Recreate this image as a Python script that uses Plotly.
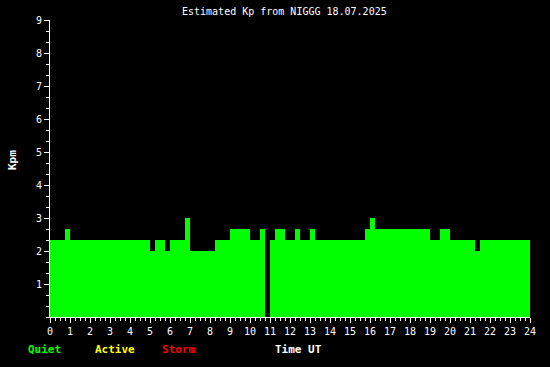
import plotly.graph_objects as go

# 15-minute estimated Kp values, 18.07.2025 (96 intervals)
kp_values = [
    2.33, 2.33, 2.33, 2.67,   # 00
    2.33, 2.33, 2.33, 2.33,   # 01
    2.33, 2.33, 2.33, 2.33,   # 02
    2.33, 2.33, 2.33, 2.33,   # 03
    2.33, 2.33, 2.33, 2.33,   # 04
    2.00, 2.33, 2.33, 2.00,   # 05
    2.33, 2.33, 2.33, 3.00,   # 06
    2.00, 2.00, 2.00, 2.00,   # 07
    2.00, 2.33, 2.33, 2.33,   # 08
    2.67, 2.67, 2.67, 2.67,   # 09
    2.33, 2.33, 2.67, 0.00,   # 10
    2.33, 2.67, 2.67, 2.33,   # 11
    2.33, 2.67, 2.33, 2.33,   # 12
    2.67, 2.33, 2.33, 2.33,   # 13
    2.33, 2.33, 2.33, 2.33,   # 14
    2.33, 2.33, 2.33, 2.67,   # 15
    3.00, 2.67, 2.67, 2.67,   # 16
    2.67, 2.67, 2.67, 2.67,   # 17
    2.67, 2.67, 2.67, 2.67,   # 18
    2.33, 2.33, 2.67, 2.67,   # 19
    2.33, 2.33, 2.33, 2.33,   # 20
    2.33, 2.00, 2.33, 2.33,   # 21
    2.33, 2.33, 2.33, 2.33,   # 22
    2.33, 2.33, 2.33, 2.33,   # 23
]
interval_h = 0.25
# step edges: start of each interval, plus end of the last one
step_x = [i * interval_h for i in range(len(kp_values))] + [len(kp_values) * interval_h]
step_y = kp_values + [kp_values[-1]]

x_ticks = list(range(0, 25))
y_ticks = list(range(1, 10))

title_text = "Estimated Kp from NIGGG 18.07.2025"
legend_items = [("Quiet", "#00ff00"), ("Active", "#ffff00"), ("Storm", "#ff0000")]

MONO = "DejaVu Sans Mono"

fig = go.Figure()
fig.add_trace(go.Scatter(
    x=step_x, y=step_y, mode="lines", line=dict(shape="hv", width=0, color="#00ff00"),
    fill="tozeroy", fillcolor="#00ff00", hoverinfo="x+y",
))

W, H = 550, 367
L, R, T, B = 50, 20, 20, 50
pw, ph = W - L - R, H - T - B

def px(x):
    return (x - L) / pw

def py(y):
    return (H - B - y) / ph

annotations = [
    dict(text=title_text, x=px(284.5), y=py(12), xref="paper", yref="paper",
         showarrow=False, xanchor="center", yanchor="middle",
         font=dict(family=MONO, size=10, color="white")),
    dict(text="<b>Kpm</b>", x=px(12), y=py(160), xref="paper", yref="paper",
         showarrow=False, textangle=-90, xanchor="center", yanchor="middle",
         font=dict(family=MONO, size=11, color="white")),
    dict(text="<b>Time UT</b>", x=px(298), y=py(349), xref="paper", yref="paper",
         showarrow=False, xanchor="center", yanchor="middle",
         font=dict(family=MONO, size=11, color="white")),
]
centers = [44.5, 114.5, 178]
for (label, col), cx in zip(legend_items, centers):
    annotations.append(dict(
        text=f"<b>{label}</b>", x=px(cx), y=py(349), xref="paper", yref="paper",
        showarrow=False, xanchor="center", yanchor="middle",
        font=dict(family=MONO, size=11, color=col)))

fig.update_layout(
    width=W, height=H,
    margin=dict(l=L, r=R, t=T, b=B, pad=0),
    paper_bgcolor="black", plot_bgcolor="black",
    showlegend=False,
    annotations=annotations,
    xaxis=dict(
        range=[0, 24], tickvals=x_ticks, ticktext=[str(v) for v in x_ticks],
        ticks="outside", ticklen=5, tickwidth=1, tickcolor="white",
        showline=True, linecolor="white", linewidth=1,
        showgrid=False, zeroline=False,
        tickfont=dict(family=MONO, size=10, color="white"),
        minor=dict(dtick=0.25, tick0=0, ticks="outside", ticklen=3,
                   tickcolor="white", tickwidth=1, showgrid=False),
        fixedrange=True,
    ),
    yaxis=dict(
        range=[0, 9], tickvals=y_ticks, ticktext=[str(v) for v in y_ticks],
        ticks="outside", ticklen=5, tickwidth=1, tickcolor="white",
        showline=True, linecolor="white", linewidth=1,
        showgrid=False, zeroline=False,
        tickfont=dict(family=MONO, size=10, color="white"),
        minor=dict(dtick=1/3, tick0=0, ticks="outside", ticklen=3,
                   tickcolor="white", tickwidth=1, showgrid=False),
        fixedrange=True,
    ),
)

fig.write_html("out.html")
